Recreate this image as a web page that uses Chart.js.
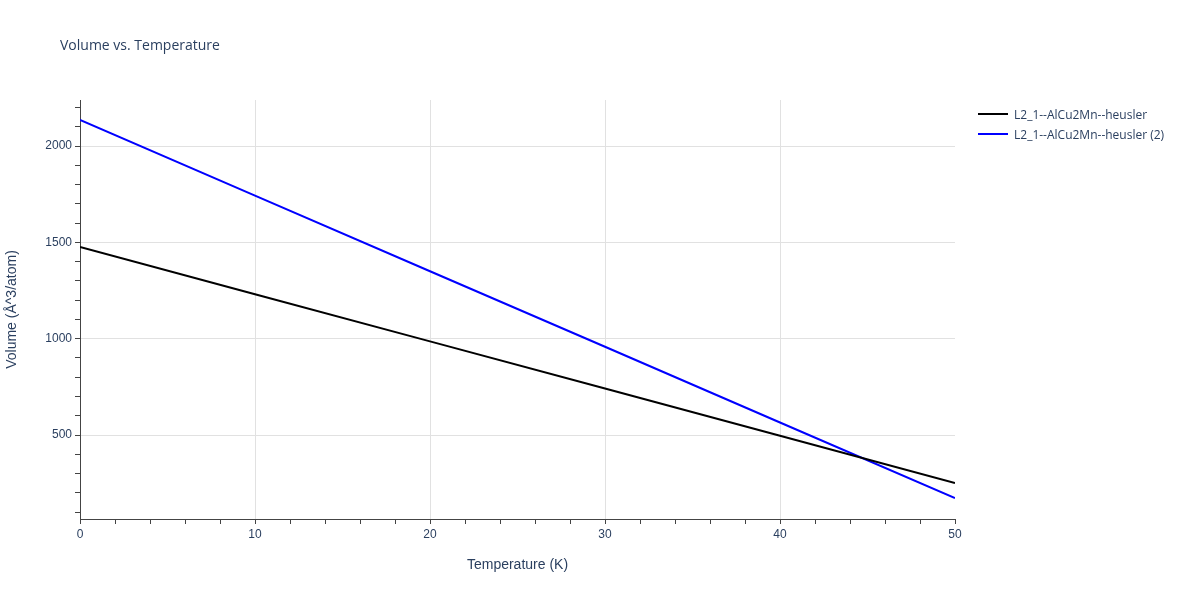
<!DOCTYPE html>
<html><head><meta charset="utf-8">
<script src="https://cdn.jsdelivr.net/npm/chart.js@4"></script>
<style>body{margin:0;background:#fff;font-family:"Open Sans",sans-serif}
#w{position:relative;width:1200px;height:600px}
#t{position:absolute;left:60px;top:35px;font-size:14px;color:#2a3f5f}
#lg{position:absolute;left:978px;top:104px;font-size:12px;color:#2a3f5f}
#lg div{display:flex;align-items:center;height:20px}
#lg span{display:inline-block;width:30px;height:2px;margin-right:6px}
</style></head><body>
<div id="w"><canvas id="c" width="1200" height="600"></canvas>
<div id="t">Volume vs. Temperature</div>
<div id="lg"><div><span style="background:#000"></span>L2_1--AlCu2Mn--heusler</div>
<div><span style="background:#00f"></span>L2_1--AlCu2Mn--heusler (2)</div></div></div>
<script>
const temps=[0,10,20,30,40,50];
const vol1=[1476,1231,986,741,496,251];
const vol2=[2135,1743,1350,958,565,173];
const xTicks=[0,10,20,30,40,50];
const yTicks=[500,1000,1500,2000];
const pts=a=>temps.map((t,i)=>({x:t,y:a[i]}));
new Chart(document.getElementById('c'),{type:'scatter',
data:{datasets:[
{data:pts(vol1),showLine:true,borderColor:'#000',borderWidth:2,pointRadius:0},
{data:pts(vol2),showLine:true,borderColor:'#00f',borderWidth:2,pointRadius:0}]},
options:{responsive:false,animation:false,plugins:{legend:{display:false},tooltip:{enabled:false}},
layout:{padding:{left:0,right:245,top:100,bottom:0}},
scales:{
x:{type:'linear',min:0,max:50,afterFit:s=>{s.height=81},
 afterBuildTicks:s=>{s.ticks=[];for(let v=0;v<=50;v+=2)s.ticks.push({value:v});},
 ticks:{autoSkip:false,maxRotation:0,color:'#2a3f5f',font:{size:12},callback:v=>xTicks.includes(v)?v:''},
 grid:{color:c=>c.tick&&c.tick.value%10===0&&c.tick.value<50?'#e1e1e1':'transparent',tickColor:'#444',tickLength:5,drawOnChartArea:true},
 border:{color:'#444'},
 title:{display:true,text:'Temperature (K)',color:'#2a3f5f',font:{size:14},padding:{top:4,bottom:26}}},
y:{min:64,max:2239,afterFit:s=>{s.width=80},
 afterBuildTicks:s=>{s.ticks=[];for(let v=100;v<=2200;v+=100)s.ticks.push({value:v});},
 ticks:{autoSkip:false,color:'#2a3f5f',font:{size:12},callback:v=>yTicks.includes(v)?v:''},
 grid:{color:c=>c.tick&&c.tick.value%500===0?'#e1e1e1':'transparent',tickColor:'#444',tickLength:5},
 border:{color:'#444'},
 title:{display:true,text:'Volume (Å^3/atom)',color:'#2a3f5f',font:{size:14}}}}}});
</script></body></html>
